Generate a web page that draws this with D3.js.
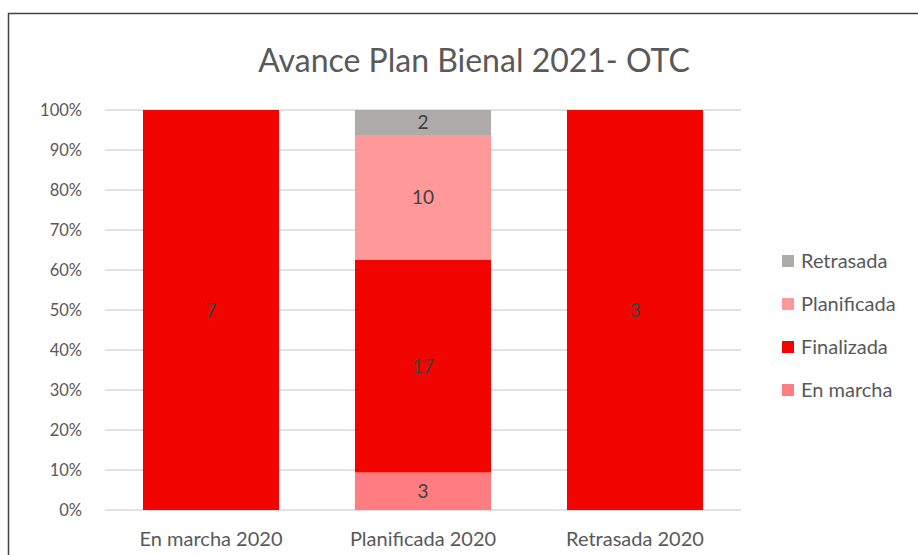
<!DOCTYPE html>
<html>
<head>
<meta charset="utf-8">
<script src="https://cdn.jsdelivr.net/npm/d3@7"></script>
<style>
  body { margin: 0; background: #fff; }
  #chart { width: 918px; height: 555px; }
  text { font-family: Lato, "Noto Sans", sans-serif; }
</style>
</head>
<body>
<div id="chart"></div>
<script>
const categories = ["En marcha 2020", "Planificada 2020", "Retrasada 2020"];
const seriesNames = ["En marcha", "Finalizada", "Planificada", "Retrasada"];
const enMarcha = [0, 3, 0];
const finalizada = [7, 17, 3];
const planificada = [0, 10, 0];
const retrasada = [0, 2, 0];
const yTicks = [0, 0.1, 0.2, 0.3, 0.4, 0.5, 0.6, 0.7, 0.8, 0.9, 1];
const colors = ["#ff7c80", "#f20500", "#ff9999", "#afabab"];

const width = 918, height = 555;
const margin = { top: 110, right: 177, bottom: 45, left: 105 };

const rows = categories.map((c, i) => {
  const r = { cat: c };
  r["En marcha"] = enMarcha[i];
  r["Finalizada"] = finalizada[i];
  r["Planificada"] = planificada[i];
  r["Retrasada"] = retrasada[i];
  return r;
});

const stacked = d3.stack().keys(seriesNames).offset(d3.stackOffsetExpand)(rows);

const svg = d3.select("#chart").append("svg")
  .attr("width", width).attr("height", height);

// chart border
svg.append("rect")
  .attr("x", 8.5).attr("y", 13.5)
  .attr("width", 920).attr("height", 560)
  .attr("fill", "none").attr("stroke", "#404040").attr("stroke-width", 1.5);

const x = d3.scaleBand().domain(categories)
  .range([margin.left, width - margin.right])
  .paddingInner(0.358).paddingOuter(0.179);
const y = d3.scaleLinear().domain([0, 1]).range([height - margin.bottom, margin.top]);

// gridlines
svg.append("g").selectAll("line").data(yTicks).enter().append("line")
  .attr("x1", margin.left).attr("x2", width - margin.right)
  .attr("y1", d => y(d)).attr("y2", d => y(d))
  .attr("stroke", "#d9d9d9").attr("stroke-width", 1.3);

// y axis labels
const yAxis = d3.axisLeft(y).tickValues(yTicks).tickFormat(d3.format(".0%")).tickSize(0).tickPadding(23);
const ya = svg.append("g").attr("transform", `translate(${margin.left},0)`).call(yAxis);
ya.select(".domain").remove();
ya.selectAll("text").attr("font-size", 16.5).attr("fill", "#595959")
  .style("font-family", "Lato, 'Noto Sans', sans-serif");

// bars
const groups = svg.append("g").selectAll("g").data(stacked).enter().append("g")
  .attr("fill", (d, i) => colors[i]);
groups.selectAll("rect").data(d => d.map(p => ({ p, key: d.key }))).enter().append("rect")
  .attr("x", d => x(d.p.data.cat))
  .attr("y", d => y(d.p[1]))
  .attr("width", x.bandwidth())
  .attr("height", d => y(d.p[0]) - y(d.p[1]));

// data labels
groups.selectAll("text").data(d => d.map(p => ({ p, key: d.key })).filter(e => e.p.data[e.key] > 0))
  .enter().append("text")
  .attr("x", d => x(d.p.data.cat) + x.bandwidth() / 2)
  .attr("y", d => (y(d.p[0]) + y(d.p[1])) / 2)
  .attr("dy", "0.35em")
  .attr("text-anchor", "middle")
  .attr("font-size", 19)
  .attr("fill", "#404040")
  .text(d => d.p.data[d.key]);

// x axis labels
const xAxis = d3.axisBottom(x).tickSize(0).tickPadding(22);
const xa = svg.append("g").attr("transform", `translate(0,${height - margin.bottom})`).call(xAxis);
xa.select(".domain").remove();
xa.selectAll("text").attr("font-size", 20).attr("fill", "#595959")
  .style("font-family", "Lato, 'Noto Sans', sans-serif");

// title
svg.append("text")
  .attr("x", 474).attr("y", 72)
  .attr("text-anchor", "middle")
  .attr("font-size", 32)
  .attr("fill", "#595959")
  .text("Avance Plan Bienal 2021- OTC");

// legend (reverse order like Excel)
const legendItems = seriesNames.map((n, i) => ({ n, c: colors[i] })).reverse();
const legend = svg.append("g").selectAll("g").data(legendItems).enter().append("g")
  .attr("transform", (d, i) => `translate(782,${261 + i * 43})`);
legend.append("rect").attr("x", 0).attr("y", -6).attr("width", 12).attr("height", 12)
  .attr("fill", d => d.c);
legend.append("text").attr("x", 19).attr("y", 0).attr("dy", "0.35em")
  .attr("font-size", 20).attr("fill", "#595959").text(d => d.n);
</script>
</body>
</html>
